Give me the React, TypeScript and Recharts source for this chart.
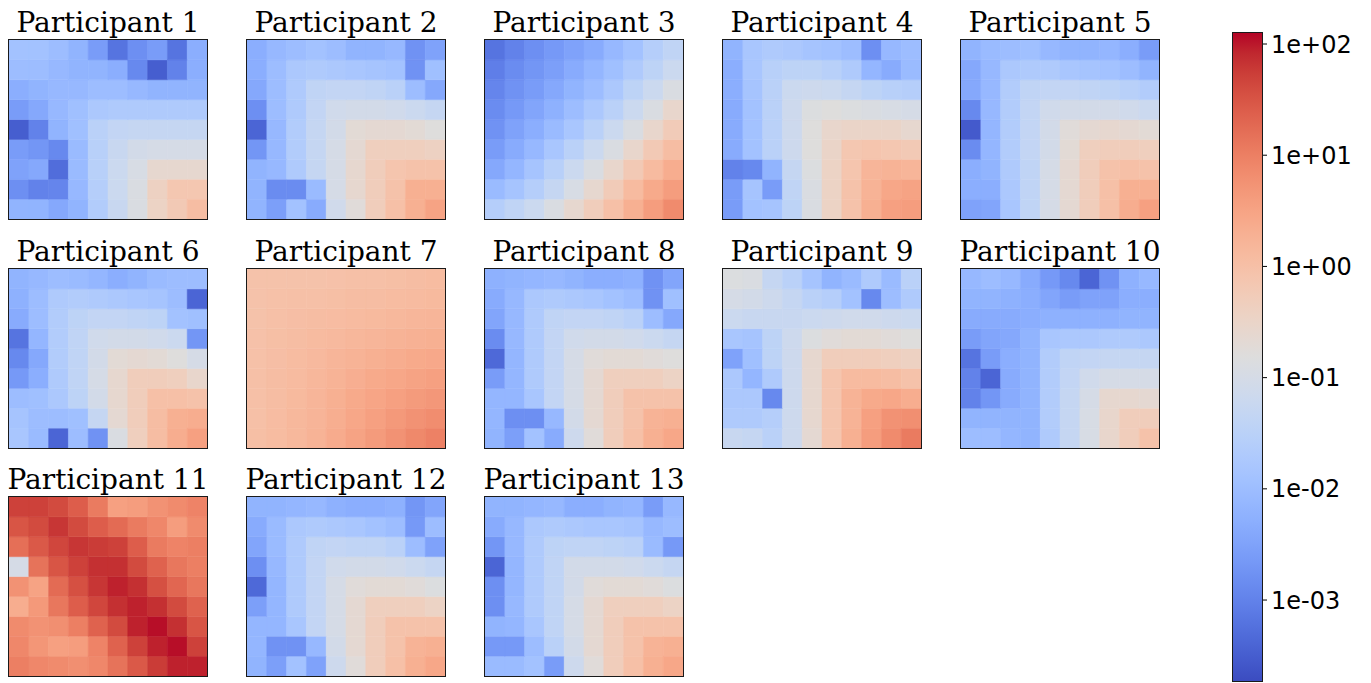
import { Bar, BarChart, Cell, XAxis, YAxis } from "recharts";

// log10 colour limits of the shared colour scale
const LOG_MIN = -3.728;
const LOG_MAX = 2.099;
const CBAR_TICKS = [-3, -2, -1, 0, 1, 2];

// matplotlib "coolwarm", 33 evenly spaced samples
const COOLWARM: [number, number, number][] = [
  [59, 76, 192], [68, 90, 204], [77, 104, 215], [87, 117, 225],
  [98, 130, 234], [108, 142, 241], [119, 154, 247], [130, 165, 251],
  [141, 176, 254], [152, 185, 255], [163, 194, 255], [174, 201, 253],
  [184, 208, 249], [194, 213, 244], [204, 217, 238], [213, 219, 230],
  [221, 221, 221], [229, 216, 209], [236, 211, 197], [241, 204, 185],
  [245, 196, 173], [247, 187, 160], [247, 177, 148], [247, 166, 135],
  [244, 154, 123], [241, 141, 111], [236, 127, 99], [229, 112, 88],
  [222, 96, 77], [213, 80, 66], [203, 62, 56], [192, 40, 47],
  [180, 4, 38],
];

// per-participant grids, log10 of the cell value, 9 rows x 10 columns
const P1 = [
  [-1.9, -1.9, -2.0, -2.2, -2.6, -3.2, -2.8, -2.6, -3.2, -2.3],
  [-2.0, -2.0, -2.1, -2.2, -2.2, -2.3, -2.9, -3.5, -3.0, -2.3],
  [-2.3, -2.2, -2.1, -2.1, -2.0, -2.0, -2.1, -2.2, -2.2, -2.2],
  [-2.6, -2.4, -2.1, -1.95, -1.75, -1.7, -1.7, -1.7, -1.7, -1.7],
  [-3.5, -3.0, -2.2, -1.95, -1.5, -1.35, -1.3, -1.3, -1.3, -1.3],
  [-2.6, -2.7, -2.9, -2.05, -1.55, -1.25, -1.05, -1.0, -1.0, -1.0],
  [-2.5, -2.4, -3.3, -2.05, -1.55, -1.2, -0.95, -0.6, -0.6, -0.6],
  [-2.8, -3.0, -2.95, -2.1, -1.6, -1.2, -0.9, -0.4, -0.15, -0.15],
  [-2.2, -2.2, -2.4, -2.2, -1.65, -1.25, -0.9, -0.45, -0.2, 0.05],
];
const P2 = [
  [-2.3, -2.1, -2.0, -1.9, -2.0, -2.2, -2.2, -2.1, -2.75, -2.5],
  [-2.3, -2.0, -1.75, -1.7, -1.75, -1.8, -1.85, -1.9, -2.75, -1.95],
  [-2.4, -2.0, -1.7, -1.4, -1.35, -1.35, -1.4, -1.5, -2.0, -2.4],
  [-2.8, -2.0, -1.7, -1.35, -1.1, -1.05, -1.05, -1.1, -1.2, -1.3],
  [-3.4, -2.1, -1.65, -1.3, -1.05, -0.7, -0.65, -0.65, -0.7, -0.8],
  [-2.7, -2.1, -1.65, -1.3, -1.0, -0.65, -0.35, -0.35, -0.35, -0.4],
  [-2.2, -2.1, -1.7, -1.3, -1.0, -0.6, -0.3, -0.1, -0.05, -0.05],
  [-2.2, -2.85, -2.85, -2.05, -1.0, -0.6, -0.3, -0.05, 0.3, 0.3],
  [-2.2, -2.55, -1.9, -2.35, -1.1, -0.75, -0.3, 0.0, 0.3, 0.5],
];
const P3 = [
  [-3.2, -3.0, -2.8, -2.65, -2.5, -2.35, -2.1, -1.9, -1.6, -1.4],
  [-3.05, -2.85, -2.7, -2.55, -2.35, -2.15, -1.95, -1.7, -1.45, -1.2],
  [-2.95, -2.75, -2.6, -2.4, -2.2, -2.0, -1.75, -1.45, -1.2, -0.9],
  [-2.85, -2.65, -2.45, -2.25, -2.0, -1.75, -1.5, -1.2, -0.9, -0.55],
  [-2.75, -2.5, -2.3, -2.05, -1.8, -1.5, -1.2, -0.9, -0.55, -0.25],
  [-2.6, -2.35, -2.1, -1.8, -1.5, -1.2, -0.9, -0.55, -0.2, 0.05],
  [-2.4, -2.15, -1.85, -1.55, -1.2, -0.9, -0.55, -0.2, 0.1, 0.35],
  [-2.05, -1.85, -1.6, -1.3, -0.95, -0.6, -0.25, 0.1, 0.4, 0.6],
  [-1.6, -1.4, -1.2, -0.9, -0.6, -0.3, 0.0, 0.3, 0.6, 0.85],
];
const P4 = [
  [-2.2, -1.8, -1.7, -1.75, -1.85, -1.9, -2.0, -2.8, -2.1, -2.0],
  [-2.3, -1.8, -1.55, -1.45, -1.45, -1.55, -1.7, -2.15, -2.35, -2.05],
  [-2.3, -1.85, -1.5, -1.2, -1.15, -1.2, -1.3, -1.45, -1.55, -1.6],
  [-2.35, -1.9, -1.5, -1.15, -0.85, -0.8, -0.85, -0.9, -0.95, -1.0],
  [-2.35, -1.9, -1.5, -1.15, -0.8, -0.55, -0.5, -0.5, -0.5, -0.6],
  [-2.35, -1.9, -1.5, -1.15, -0.8, -0.5, -0.15, -0.1, -0.15, -0.2],
  [-3.0, -2.9, -2.2, -1.3, -0.85, -0.45, -0.1, 0.2, 0.25, 0.2],
  [-2.6, -1.85, -2.6, -1.4, -0.9, -0.45, -0.05, 0.25, 0.45, 0.5],
  [-2.6, -1.9, -1.85, -1.45, -0.9, -0.45, -0.05, 0.3, 0.55, 0.6],
];
const P5 = [
  [-2.2, -2.05, -2.0, -1.95, -2.1, -2.2, -2.2, -2.15, -2.3, -2.6],
  [-2.4, -2.1, -1.75, -1.7, -1.7, -1.8, -1.85, -1.9, -2.0, -2.2],
  [-2.4, -2.1, -1.65, -1.4, -1.35, -1.35, -1.4, -1.45, -1.55, -1.65],
  [-2.9, -2.1, -1.65, -1.35, -1.1, -1.05, -1.05, -1.05, -1.1, -1.2],
  [-3.55, -2.15, -1.65, -1.35, -1.05, -0.75, -0.65, -0.6, -0.65, -0.7],
  [-2.85, -2.15, -1.65, -1.35, -1.05, -0.7, -0.35, -0.3, -0.3, -0.35],
  [-2.3, -2.2, -1.7, -1.4, -1.0, -0.65, -0.3, -0.05, 0.0, -0.05],
  [-2.3, -2.3, -1.75, -1.4, -1.0, -0.65, -0.3, 0.0, 0.3, 0.3],
  [-2.5, -2.45, -1.8, -1.4, -1.0, -0.65, -0.3, 0.0, 0.35, 0.55],
];
const P6 = [
  [-2.2, -2.1, -2.0, -2.05, -2.15, -2.3, -2.2, -2.05, -2.0, -2.0],
  [-2.25, -2.0, -1.7, -1.65, -1.7, -1.75, -1.8, -1.85, -2.0, -3.4],
  [-2.35, -2.0, -1.65, -1.45, -1.35, -1.35, -1.4, -1.45, -1.9, -1.95],
  [-3.2, -2.15, -1.65, -1.4, -1.1, -1.05, -1.05, -1.1, -1.2, -2.7],
  [-2.9, -2.4, -1.65, -1.4, -1.05, -0.7, -0.65, -0.7, -0.8, -1.0],
  [-2.65, -2.3, -1.7, -1.4, -1.0, -0.6, -0.3, -0.3, -0.35, -0.55],
  [-2.0, -1.95, -1.75, -1.45, -1.05, -0.6, -0.3, 0.0, 0.0, -0.05],
  [-1.85, -2.0, -2.0, -1.95, -1.3, -0.65, -0.3, 0.05, 0.3, 0.35],
  [-1.8, -2.05, -3.4, -2.0, -2.75, -0.9, -0.35, 0.05, 0.35, 0.55],
];
const P7 = [
  [-0.05, -0.05, -0.05, -0.05, -0.03, 0.0, 0.0, 0.02, 0.05, 0.08],
  [-0.05, -0.02, 0.0, 0.0, 0.02, 0.05, 0.05, 0.08, 0.1, 0.12],
  [-0.05, 0.0, 0.03, 0.05, 0.07, 0.1, 0.12, 0.15, 0.18, 0.2],
  [-0.03, 0.02, 0.05, 0.1, 0.13, 0.17, 0.2, 0.25, 0.28, 0.3],
  [-0.02, 0.03, 0.08, 0.13, 0.2, 0.25, 0.3, 0.35, 0.4, 0.42],
  [0.0, 0.05, 0.1, 0.17, 0.25, 0.32, 0.4, 0.45, 0.5, 0.55],
  [0.0, 0.05, 0.12, 0.2, 0.3, 0.4, 0.48, 0.55, 0.62, 0.68],
  [0.0, 0.07, 0.15, 0.22, 0.33, 0.45, 0.55, 0.65, 0.75, 0.82],
  [0.02, 0.08, 0.15, 0.25, 0.37, 0.5, 0.62, 0.75, 0.88, 0.98],
];
const P8 = [
  [-2.25, -2.2, -2.15, -2.1, -2.2, -2.3, -2.3, -2.25, -2.75, -2.45],
  [-2.35, -2.1, -1.75, -1.7, -1.75, -1.8, -1.9, -2.0, -2.75, -1.95],
  [-2.45, -2.1, -1.7, -1.4, -1.35, -1.35, -1.4, -1.5, -2.0, -2.4],
  [-2.85, -2.1, -1.7, -1.35, -1.1, -1.05, -1.05, -1.1, -1.2, -1.3],
  [-3.35, -2.15, -1.7, -1.35, -1.0, -0.75, -0.7, -0.7, -0.75, -0.8],
  [-2.6, -2.15, -1.7, -1.35, -1.0, -0.65, -0.35, -0.35, -0.35, -0.45],
  [-2.15, -2.15, -1.8, -1.35, -1.0, -0.65, -0.3, -0.05, -0.05, -0.05],
  [-2.15, -2.8, -2.8, -2.1, -1.05, -0.65, -0.3, -0.05, 0.25, 0.3],
  [-2.2, -2.55, -1.9, -2.35, -1.15, -0.75, -0.3, 0.0, 0.3, 0.45],
];
const P9 = [
  [-0.85, -0.9, -1.3, -1.5, -1.85, -2.2, -2.05, -1.7, -2.05, -1.5],
  [-1.0, -1.05, -1.15, -1.3, -1.5, -1.6, -1.9, -2.9, -2.0, -1.7],
  [-1.2, -1.25, -1.25, -1.25, -1.2, -1.15, -1.1, -1.1, -1.15, -1.2],
  [-1.8, -1.85, -1.45, -1.15, -0.85, -0.75, -0.7, -0.7, -0.75, -0.8],
  [-2.5, -1.95, -1.45, -1.15, -0.6, -0.3, -0.3, -0.3, -0.35, -0.4],
  [-1.75, -2.15, -1.7, -1.15, -0.6, -0.1, 0.1, 0.1, 0.05, -0.05],
  [-1.75, -1.75, -2.9, -1.15, -0.6, -0.1, 0.25, 0.4, 0.45, 0.35],
  [-1.7, -1.7, -1.6, -1.15, -0.6, -0.1, 0.25, 0.55, 0.75, 0.8],
  [-1.25, -1.3, -1.5, -1.15, -0.65, -0.1, 0.3, 0.6, 0.85, 1.05],
];
const P10 = [
  [-2.1, -2.0, -2.1, -2.35, -2.65, -2.9, -3.4, -2.75, -2.25, -2.1],
  [-2.2, -2.2, -2.25, -2.3, -2.45, -2.6, -2.5, -2.5, -2.3, -2.3],
  [-2.35, -2.35, -2.35, -2.3, -2.25, -2.25, -2.25, -2.25, -2.2, -2.2],
  [-2.6, -2.45, -2.4, -2.2, -1.8, -1.75, -1.75, -1.7, -1.7, -1.75],
  [-3.2, -2.6, -2.3, -2.2, -1.65, -1.4, -1.35, -1.3, -1.3, -1.3],
  [-3.0, -3.4, -2.35, -2.2, -1.65, -1.35, -1.1, -1.0, -1.0, -1.0],
  [-3.0, -2.7, -2.35, -2.2, -1.65, -1.3, -1.0, -0.6, -0.6, -0.65],
  [-2.2, -2.2, -2.2, -2.2, -1.65, -1.3, -0.95, -0.55, -0.3, -0.3],
  [-2.0, -2.0, -2.15, -2.2, -1.7, -1.3, -0.95, -0.55, -0.3, -0.05],
];
const P11 = [
  [1.7, 1.7, 1.6, 1.4, 1.05, 0.55, 0.6, 0.75, 0.85, 0.95],
  [1.5, 1.6, 1.8, 1.6, 1.4, 1.25, 1.05, 0.9, 0.6, 0.85],
  [1.2, 1.45, 1.65, 1.8, 1.75, 1.7, 1.4, 1.05, 0.95, 1.0],
  [-1.0, 1.15, 1.5, 1.7, 1.85, 1.85, 1.6, 1.35, 1.1, 1.0],
  [0.75, 0.5, 1.25, 1.55, 1.8, 1.95, 1.85, 1.55, 1.3, 1.1],
  [0.35, 0.65, 1.1, 1.4, 1.65, 1.85, 1.95, 1.85, 1.6, 1.35],
  [0.85, 0.75, 0.8, 1.0, 1.35, 1.6, 1.95, 2.05, 1.85, 1.5],
  [0.9, 0.7, 0.55, 0.6, 0.95, 1.35, 1.7, 1.95, 2.05, 1.7],
  [1.0, 0.9, 0.85, 0.8, 0.9, 1.15, 1.45, 1.75, 1.95, 1.95],
];
const P12 = [
  [-2.2, -2.2, -2.15, -2.1, -2.25, -2.3, -2.3, -2.25, -2.7, -2.45],
  [-2.35, -2.05, -1.75, -1.7, -1.75, -1.8, -1.9, -2.0, -2.65, -2.0],
  [-2.45, -2.05, -1.7, -1.4, -1.35, -1.4, -1.4, -1.5, -2.0, -2.5],
  [-2.8, -2.1, -1.7, -1.35, -1.1, -1.05, -1.05, -1.1, -1.2, -1.3],
  [-3.35, -2.15, -1.7, -1.35, -1.0, -0.75, -0.7, -0.7, -0.75, -0.85],
  [-2.55, -2.15, -1.7, -1.35, -1.0, -0.65, -0.35, -0.35, -0.35, -0.45],
  [-2.15, -2.15, -1.8, -1.35, -1.0, -0.65, -0.3, -0.05, -0.05, -0.05],
  [-2.15, -2.75, -2.75, -2.1, -1.05, -0.65, -0.3, -0.05, 0.25, 0.3],
  [-2.2, -2.55, -1.9, -2.5, -1.15, -0.75, -0.3, 0.0, 0.3, 0.45],
];
const P13 = [
  [-2.2, -2.2, -2.15, -2.1, -2.3, -2.3, -2.2, -2.15, -2.6, -2.1],
  [-2.35, -2.1, -1.75, -1.7, -1.75, -1.8, -1.8, -1.85, -2.1, -2.0],
  [-2.7, -2.1, -1.7, -1.45, -1.4, -1.4, -1.45, -1.5, -2.05, -2.65],
  [-3.4, -2.15, -1.7, -1.4, -1.05, -1.05, -1.05, -1.1, -1.2, -1.3],
  [-2.8, -2.15, -1.7, -1.4, -1.05, -0.75, -0.7, -0.7, -0.75, -0.85],
  [-2.8, -2.1, -1.7, -1.4, -1.0, -0.65, -0.35, -0.35, -0.35, -0.45],
  [-2.2, -2.15, -1.8, -1.4, -1.0, -0.65, -0.3, -0.05, -0.05, -0.05],
  [-2.65, -2.65, -2.0, -1.5, -1.05, -0.65, -0.3, -0.05, 0.25, 0.3],
  [-2.05, -2.05, -1.9, -2.6, -1.15, -0.75, -0.3, 0.0, 0.3, 0.45],
];

const GRIDS = [P1, P2, P3, P4, P5, P6, P7, P8, P9, P10, P11, P12, P13];
const TITLES = GRIDS.map((_, i) => `Participant ${i + 1}`);

const PANEL_W = 198;
const PANEL_H = 179;
const COL_STEP = 238;
const ROW_STEP = 228.5;
const ORIGIN_X = 9;
const ORIGIN_Y = 40;
const PER_ROW = 5;

const SERIF = "'DejaVu Serif', serif";
const SANS = "'DejaVu Sans', sans-serif";

function coolwarm(t: number): string {
  const s = Math.min(1, Math.max(0, t)) * (COOLWARM.length - 1);
  const i = Math.min(COOLWARM.length - 2, Math.floor(s));
  const f = s - i;
  const a = COOLWARM[i];
  const b = COOLWARM[i + 1];
  const ch = (k: number) => Math.round(a[k] + (b[k] - a[k]) * f);
  return `rgb(${ch(0)},${ch(1)},${ch(2)})`;
}

const colorFor = (v: number) => coolwarm((v - LOG_MIN) / (LOG_MAX - LOG_MIN));

function Heatmap({ grid, title, left, top }: { grid: number[][]; title: string; left: number; top: number }) {
  const nRows = grid.length;
  const nCols = grid[0].length;
  // one unit-high stacked segment per cell, bottom row first
  const data = Array.from({ length: nCols }, (_, c) => {
    const d: Record<string, number> = { col: c };
    grid.forEach((_, r) => (d[`r${r}`] = 1));
    return d;
  });
  const stackOrder = grid.map((_, r) => nRows - 1 - r);

  return (
    <div style={{ position: "absolute", left, top, width: PANEL_W, height: PANEL_H }}>
      <div
        style={{
          position: "absolute",
          left: -40,
          width: PANEL_W + 80,
          top: -31,
          height: 28,
          lineHeight: "28px",
          textAlign: "center",
          fontFamily: SERIF,
          fontSize: 28,
          color: "#000",
          whiteSpace: "nowrap",
        }}
      >
        {title}
      </div>
      <BarChart
        width={PANEL_W}
        height={PANEL_H}
        data={data}
        margin={{ top: 0, right: 0, bottom: 0, left: 0 }}
        barCategoryGap={0}
        barGap={0}
      >
        <XAxis dataKey="col" hide />
        <YAxis type="number" domain={[0, nRows]} hide />
        {stackOrder.map((r) => (
          <Bar key={r} dataKey={`r${r}`} stackId="cells" isAnimationActive={false}>
            {data.map((_, c) => (
              <Cell key={c} fill={colorFor(grid[r][c])} stroke={colorFor(grid[r][c])} strokeWidth={0.5} />
            ))}
          </Bar>
        ))}
      </BarChart>
      <div
        style={{
          position: "absolute",
          left: -1,
          top: -1,
          width: PANEL_W,
          height: PANEL_H,
          border: "1px solid #1a1a1a",
          pointerEvents: "none",
        }}
      />
    </div>
  );
}

const fmtExp = (v: number) => `1e${v < 0 ? "-" : "+"}${String(Math.abs(v)).padStart(2, "0")}`;

function Colorbar() {
  const data = [{ k: "cbar", span: [LOG_MIN, LOG_MAX] }];
  const barW = 29;
  const h = 648;
  const pad = 20;
  return (
    <div style={{ position: "absolute", left: 1233, top: 33 }}>
      <svg width={0} height={0} style={{ position: "absolute" }}>
        <defs>
          <linearGradient id="coolwarm-grad" x1="0" y1="1" x2="0" y2="0">
            {COOLWARM.map((c, i) => (
              <stop key={i} offset={i / (COOLWARM.length - 1)} stopColor={`rgb(${c[0]},${c[1]},${c[2]})`} />
            ))}
          </linearGradient>
        </defs>
      </svg>
      <div style={{ position: "absolute", left: 0, top: -pad }}>
        <BarChart
          width={barW + 110}
          height={h + 2 * pad}
          data={data}
          margin={{ top: pad, right: 0, bottom: pad, left: 0 }}
          barCategoryGap={0}
        >
          <XAxis dataKey="k" hide />
          <YAxis
            orientation="right"
            type="number"
            domain={[LOG_MIN, LOG_MAX]}
            allowDataOverflow
            ticks={CBAR_TICKS}
            interval={0}
            tickFormatter={fmtExp}
            width={110}
            axisLine={false}
            tickLine={{ stroke: "#000" }}
            tickSize={5}
            tickMargin={4}
            tick={{ fill: "#000", fontSize: 24, fontFamily: SANS }}
          />
          <Bar dataKey="span" fill="url(#coolwarm-grad)" isAnimationActive={false} />
        </BarChart>
      </div>
      <div
        style={{
          position: "absolute",
          left: -1,
          top: -1,
          width: barW,
          height: h,
          border: "1px solid #1a1a1a",
          pointerEvents: "none",
        }}
      />
    </div>
  );
}

export default function App() {
  return (
    <div
      style={{
        position: "absolute",
        left: 0,
        top: 0,
        width: 1371,
        height: 683,
        background: "#fff",
        overflow: "hidden",
      }}
    >
      {GRIDS.map((g, i) => (
        <Heatmap
          key={i}
          grid={g}
          title={TITLES[i]}
          left={ORIGIN_X + (i % PER_ROW) * COL_STEP}
          top={ORIGIN_Y + Math.floor(i / PER_ROW) * ROW_STEP}
        />
      ))}
      <Colorbar />
    </div>
  );
}
